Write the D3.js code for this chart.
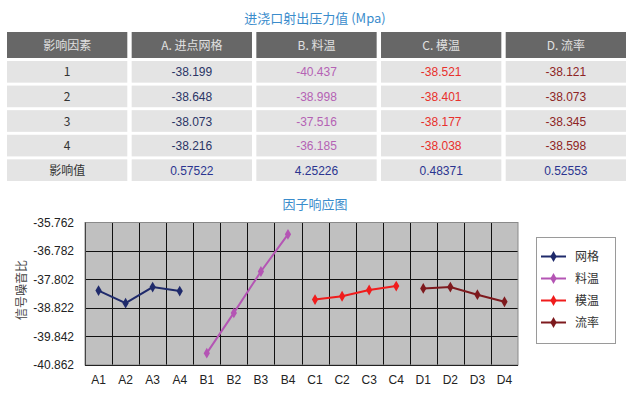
<!DOCTYPE html>
<meta charset="utf-8">
<style>
body { margin: 0; background: #fff; }
svg text { font-family: "Liberation Sans", "Noto Sans CJK SC", sans-serif; }
.cjk { font-family: "Noto Sans CJK SC", sans-serif; }
</style>
<script src="https://d3js.org/d3.v7.min.js"></script>
<svg id="chart" width="630" height="394"></svg>
<script>
// table data
var headers = ["影响因素", "A. 进点网格", "B. 料温", "C. 模温", "D. 流率"];
var rowLabels = ["1", "2", "3", "4", "影响值"];
var colA = ["-38.199", "-38.648", "-38.073", "-38.216"];
var colB = ["-40.437", "-38.998", "-37.516", "-36.185"];
var colC = ["-38.521", "-38.401", "-38.177", "-38.038"];
var colD = ["-38.121", "-38.073", "-38.345", "-38.598"];
var effect = ["0.57522", "4.25226", "0.48371", "0.52553"];
var colColors = ["#2b3566", "#b462b4", "#e8302c", "#8e2424"];

// chart data
var categories = ["A1", "A2", "A3", "A4", "B1", "B2", "B3", "B4",
                  "C1", "C2", "C3", "C4", "D1", "D2", "D3", "D4"];
var seriesNames = ["网格", "料温", "模温", "流率"];
var seriesColors = ["#1f2a6b", "#b455b4", "#f01c1c", "#7e1a1e"];
var yTicks = [-35.762, -36.782, -37.802, -38.822, -39.842, -40.862];

var svg = d3.select("#chart");

svg.append("text")
    .attr("class", "cjk")
    .attr("x", 315).attr("y", 23)
    .attr("text-anchor", "middle")
    .attr("font-size", 13)
    .attr("fill", "#3a8ccc")
    .text("进浇口射出压力值 (Mpa)");

// --- table ---
var colX = d3.scaleBand().domain(d3.range(5)).range([7, 626]).paddingInner(0.035);
var rowY = d3.scaleBand().domain(d3.range(5)).range([61, 181]).paddingInner(0.12);

var head = svg.append("g");
head.selectAll("rect").data(headers).join("rect")
    .attr("x", function(d, i) { return colX(i); })
    .attr("y", 32)
    .attr("width", colX.bandwidth())
    .attr("height", 26)
    .attr("fill", "#676767");
head.selectAll("text").data(headers).join("text")
    .attr("class", "cjk")
    .attr("x", function(d, i) { return colX(i) + colX.bandwidth() / 2; })
    .attr("y", 49.5)
    .attr("text-anchor", "middle")
    .attr("font-size", 12)
    .attr("fill", "#e0e0e0")
    .text(function(d) { return d; });

var columns = [colA, colB, colC, colD];
var cells = [];
rowLabels.forEach(function(lab, r) {
    cells.push({ r: r, c: 0, text: lab, color: "#333" });
    columns.forEach(function(col, c) {
        if (r < 4)
            cells.push({ r: r, c: c + 1, text: col[r], color: colColors[c] });
        else
            cells.push({ r: r, c: c + 1, text: effect[c], color: "#2b3490" });
    });
});

var body = svg.append("g");
body.selectAll("rect").data(cells).join("rect")
    .attr("x", function(d) { return colX(d.c); })
    .attr("y", function(d) { return rowY(d.r); })
    .attr("width", colX.bandwidth())
    .attr("height", rowY.bandwidth())
    .attr("fill", "#e4e4e4");
body.selectAll("text").data(cells).join("text")
    .attr("class", function(d) { return d.c === 0 ? "cjk" : null; })
    .attr("x", function(d) { return colX(d.c) + colX.bandwidth() / 2; })
    .attr("y", function(d) { return rowY(d.r) + rowY.bandwidth() / 2 + 4.5; })
    .attr("text-anchor", "middle")
    .attr("font-size", 12)
    .attr("fill", function(d) { return d.color; })
    .text(function(d) { return d.text; });

// --- chart ---
svg.append("text")
    .attr("class", "cjk")
    .attr("x", 315).attr("y", 209)
    .attr("text-anchor", "middle")
    .attr("font-size", 13)
    .attr("fill", "#3a8ccc")
    .text("因子响应图");

var x = d3.scaleBand().domain(categories).range([85, 518]);
var y = d3.scaleLinear().domain([-40.862, -35.762]).range([365, 222.5]);

svg.append("rect")
    .attr("x", 85).attr("y", 222.5)
    .attr("width", 433).attr("height", 142.5)
    .attr("fill", "#c0c0c0");

var grid = svg.append("g").attr("stroke", "#111").attr("stroke-width", 1);
grid.selectAll("line.h").data(yTicks.slice(1, 5)).join("line")
    .attr("class", "h")
    .attr("x1", 85).attr("x2", 518)
    .attr("y1", function(d) { return Math.round(y(d)) + 0.5; })
    .attr("y2", function(d) { return Math.round(y(d)) + 0.5; });
grid.selectAll("line.v").data(categories.slice(1)).join("line")
    .attr("class", "v")
    .attr("y1", 222.5).attr("y2", 365)
    .attr("x1", function(d) { return Math.round(x(d)) + 0.5; })
    .attr("x2", function(d) { return Math.round(x(d)) + 0.5; });
svg.append("rect")
    .attr("x", 85).attr("y", 222.5)
    .attr("width", 433).attr("height", 142.5)
    .attr("fill", "none")
    .attr("stroke", "#8a8a8a");
svg.append("line")
    .attr("x1", 85).attr("x2", 518).attr("y1", 365.5).attr("y2", 365.5)
    .attr("stroke", "#222");
svg.append("line")
    .attr("x1", 85.5).attr("x2", 85.5).attr("y1", 222.5).attr("y2", 365)
    .attr("stroke", "#444");

var yAxis = svg.append("g")
    .attr("transform", "translate(77,0)")
    .call(d3.axisLeft(y).tickValues(yTicks).tickSize(0)
        .tickFormat(function(d) { return d.toFixed(3); }));
yAxis.select(".domain").remove();
yAxis.selectAll("text")
    .attr("font-size", 12)
    .attr("fill", "#222")
    .attr("font-family", "Liberation Sans, sans-serif");

var xAxis = svg.append("g")
    .attr("transform", "translate(0,372)")
    .call(d3.axisBottom(x).tickSize(0));
xAxis.select(".domain").remove();
xAxis.selectAll("text")
    .attr("font-size", 12)
    .attr("fill", "#222")
    .attr("font-family", "Liberation Sans, sans-serif");

svg.append("text")
    .attr("class", "cjk")
    .attr("transform", "translate(26,290) rotate(-90)")
    .attr("text-anchor", "middle")
    .attr("font-size", 12)
    .attr("fill", "#444")
    .text("信号噪音比");

var series = [colA, colB, colC, colD].map(function(col, s) {
    return col.map(function(v, i) {
        return { cat: categories[s * 4 + i], value: +v };
    });
});

var line = d3.line()
    .x(function(d) { return x(d.cat) + x.bandwidth() / 2; })
    .y(function(d) { return y(d.value); });
var diamond = d3.symbol().type(d3.symbolDiamond).size(34);

series.forEach(function(pts, s) {
    svg.append("path")
        .datum(pts)
        .attr("d", line)
        .attr("fill", "none")
        .attr("stroke", seriesColors[s])
        .attr("stroke-width", 2);
    svg.selectAll("path.m" + s).data(pts).join("path")
        .attr("class", "m" + s)
        .attr("d", diamond)
        .attr("transform", function(d) {
            return "translate(" + (x(d.cat) + x.bandwidth() / 2) + "," + y(d.value) + ")";
        })
        .attr("fill", seriesColors[s]);
});

// legend
var legend = svg.append("g");
legend.append("rect")
    .attr("x", 536.5).attr("y", 237.5)
    .attr("width", 79).attr("height", 106)
    .attr("fill", "#fff")
    .attr("stroke", "#9a9a9a");
var legY = d3.scalePoint().domain(seriesNames).range([256.5, 322.5]);
var items = legend.selectAll("g").data(seriesNames).join("g")
    .attr("transform", function(d) { return "translate(0," + legY(d) + ")"; });
items.append("line")
    .attr("x1", 541).attr("x2", 566)
    .attr("stroke", function(d, i) { return seriesColors[i]; })
    .attr("stroke-width", 2);
items.append("path")
    .attr("d", diamond)
    .attr("transform", "translate(553.5,0)")
    .attr("fill", function(d, i) { return seriesColors[i]; });
items.append("text")
    .attr("class", "cjk")
    .attr("x", 575).attr("y", 4.5)
    .attr("font-size", 12)
    .attr("fill", "#333")
    .text(function(d) { return d; });
</script>
